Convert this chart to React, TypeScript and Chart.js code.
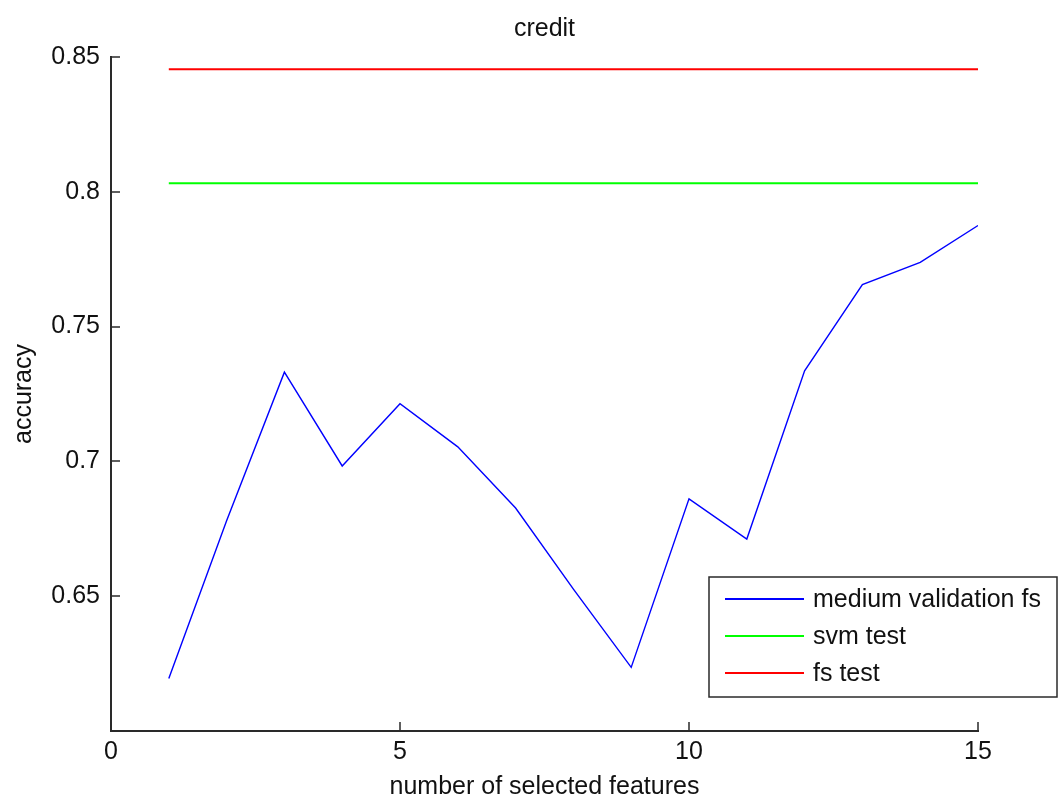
import React, { useEffect, useRef } from "react";
import { Chart, registerables } from "chart.js";

Chart.register(...registerables);

const FONT = '"Liberation Sans", Arial, Helvetica, sans-serif';
const TEXT_COLOR = "#111111";
const AXIS_COLOR = "#2a2a2a";

// number of selected features
const features = [1, 2, 3, 4, 5, 6, 7, 8, 9, 10, 11, 12, 13, 14, 15];
// accuracy on the validation folds for each feature count
const mediumValidationFs = [
  0.6195, 0.678, 0.7331, 0.6983, 0.7214, 0.7054, 0.6827, 0.6526, 0.6236,
  0.6861, 0.6712, 0.7336, 0.7656, 0.7738, 0.7875,
];
// reference test accuracies
const svmTest = 0.8032;
const fsTest = 0.8455;

const seriesLabels = ["medium validation fs", "svm test", "fs test"];
const seriesColors = ["#0000ff", "#00ff00", "#ff0000"];

const xTickValues = [0, 5, 10, 15];
const yTickValues = [0.6, 0.65, 0.7, 0.75, 0.8, 0.85];

// MATLAB-style ticks that point into the plot area
const insideTicks = {
  id: "insideTicks",
  afterDraw(chart: any) {
    const { ctx, chartArea, scales } = chart;
    ctx.save();
    ctx.strokeStyle = AXIS_COLOR;
    ctx.lineWidth = 1.5;
    ctx.beginPath();
    xTickValues.forEach((v) => {
      const px = Math.round(scales.x.getPixelForValue(v));
      ctx.moveTo(px, chartArea.bottom);
      ctx.lineTo(px, chartArea.bottom - 9);
    });
    yTickValues.forEach((v) => {
      const py = Math.round(scales.y.getPixelForValue(v));
      ctx.moveTo(chartArea.left, py);
      ctx.lineTo(chartArea.left + 9, py);
    });
    ctx.stroke();
    ctx.restore();
  },
};

// boxed legend in the lower right corner
const boxLegend = {
  id: "boxLegend",
  afterDraw(chart: any) {
    const { ctx } = chart;
    const left = 709;
    const top = 577;
    const right = chart.width - 2;
    const bottom = 697;
    ctx.save();
    ctx.fillStyle = "#ffffff";
    ctx.fillRect(left, top, right - left, bottom - top);
    ctx.strokeStyle = AXIS_COLOR;
    ctx.lineWidth = 1.5;
    ctx.strokeRect(left, top, right - left, bottom - top);
    ctx.font = `25px ${FONT}`;
    ctx.textBaseline = "middle";
    ctx.textAlign = "left";
    chart.data.datasets.forEach((ds: any, i: number) => {
      const y = top + 22 + i * 37;
      ctx.strokeStyle = ds.borderColor;
      ctx.lineWidth = 2;
      ctx.beginPath();
      ctx.moveTo(725, y);
      ctx.lineTo(804, y);
      ctx.stroke();
      ctx.fillStyle = TEXT_COLOR;
      ctx.fillText(ds.label, 813, y + 1);
    });
    ctx.restore();
  },
};

export default function App() {
  const canvasRef = useRef<HTMLCanvasElement | null>(null);

  useEffect(() => {
    const canvas = canvasRef.current;
    if (!canvas) return;

    const first = features[0];
    const last = features[features.length - 1];

    const chart = new Chart(canvas, {
      type: "line",
      data: {
        datasets: [
          {
            label: seriesLabels[0],
            data: features.map((f, i) => ({ x: f, y: mediumValidationFs[i] })),
            borderColor: seriesColors[0],
            borderWidth: 1.4,
            pointRadius: 0,
            tension: 0,
          },
          {
            label: seriesLabels[1],
            data: [
              { x: first, y: svmTest },
              { x: last, y: svmTest },
            ],
            borderColor: seriesColors[1],
            borderWidth: 2,
            pointRadius: 0,
          },
          {
            label: seriesLabels[2],
            data: [
              { x: first, y: fsTest },
              { x: last, y: fsTest },
            ],
            borderColor: seriesColors[2],
            borderWidth: 2,
            pointRadius: 0,
          },
        ],
      },
      options: {
        responsive: false,
        animation: false,
        devicePixelRatio: 1,
        layout: { padding: { left: 0, right: 81, top: 0, bottom: 0 } },
        plugins: {
          legend: { display: false },
          tooltip: { enabled: false },
          title: {
            display: true,
            fullSize: false,
            text: "credit",
            color: TEXT_COLOR,
            font: { family: FONT, size: 25, weight: "normal", lineHeight: 1.2 },
            padding: { top: 14, bottom: 13 },
          },
        },
        scales: {
          x: {
            type: "linear",
            min: 0,
            max: 15,
            afterBuildTicks: (scale: any) => {
              scale.ticks = xTickValues.map((v) => ({ value: v }));
            },
            afterFit: (scale: any) => {
              scale.height = 69;
            },
            grid: { display: true, drawOnChartArea: false, drawTicks: false },
            border: { display: true, color: AXIS_COLOR, width: 2 },
            ticks: {
              color: TEXT_COLOR,
              padding: 6,
              maxRotation: 0,
              font: { family: FONT, size: 25 },
            },
            title: {
              display: true,
              text: "number of selected features",
              color: TEXT_COLOR,
              font: { family: FONT, size: 25, lineHeight: 1 },
              padding: { top: 0, bottom: 0 },
            },
          },
          y: {
            type: "linear",
            min: 0.6,
            max: 0.85,
            afterBuildTicks: (scale: any) => {
              scale.ticks = yTickValues.map((v) => ({ value: v }));
            },
            afterFit: (scale: any) => {
              scale.width = 111;
            },
            grid: { display: true, drawOnChartArea: false, drawTicks: false },
            border: { display: true, color: AXIS_COLOR, width: 2 },
            ticks: {
              color: TEXT_COLOR,
              padding: 11,
              font: { family: FONT, size: 25 },
              callback: (v: any) => (Math.abs(Number(v) - 0.6) < 1e-9 ? "" : String(Number(Number(v).toFixed(2)))),
            },
            title: {
              display: true,
              text: "accuracy",
              color: TEXT_COLOR,
              font: { family: FONT, size: 25, lineHeight: 1 },
              padding: { top: 12, bottom: 0 },
            },
          },
        },
      },
      plugins: [insideTicks, boxLegend],
    });

    return () => chart.destroy();
  }, []);

  return (
    <div style={{ position: "absolute", left: 0, top: 0, width: 1059, height: 800, background: "#ffffff" }}>
      <canvas ref={canvasRef} width={1059} height={800} style={{ display: "block" }} />
    </div>
  );
}
